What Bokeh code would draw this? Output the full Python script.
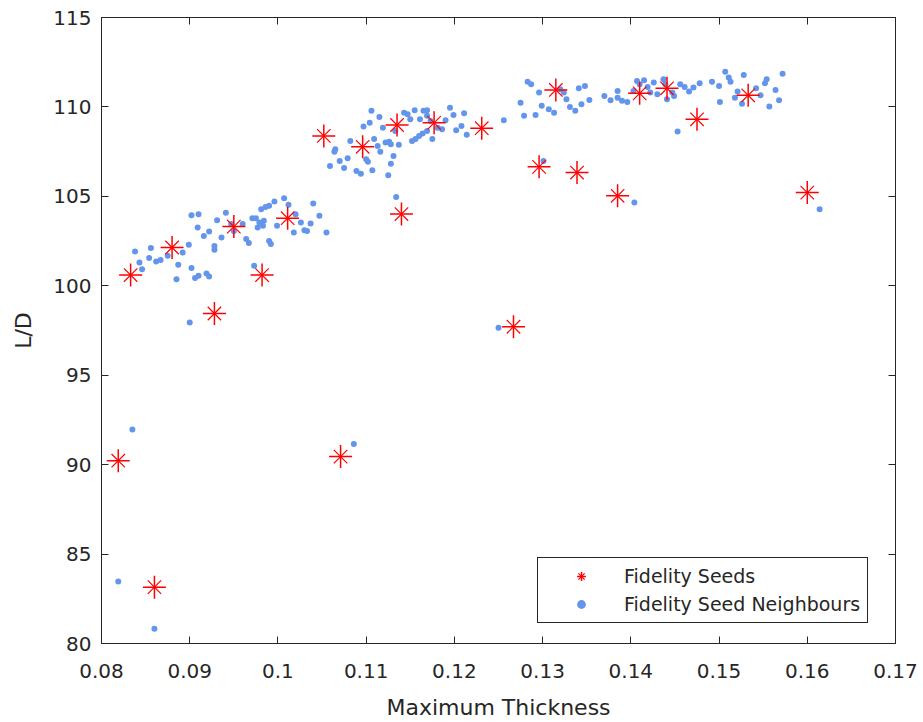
from bokeh.plotting import figure
from bokeh.models import Range1d, LinearAxis, FixedTicker, Legend, LegendItem
from bokeh.embed import file_html
from bokeh.resources import INLINE

# Fidelity seeds
seed_x = [0.0819, 0.0860, 0.0833, 0.0880, 0.0928, 0.0950, 0.0982, 0.1011,
          0.1052, 0.1096, 0.1135, 0.1177, 0.1231, 0.1140, 0.1071, 0.1267,
          0.1296, 0.1315, 0.1339, 0.1385, 0.1410, 0.1441, 0.1475, 0.1533, 0.1600]
seed_y = [90.22, 83.15, 100.60, 102.14, 98.45, 103.31, 100.60, 103.78,
          108.38, 107.77, 108.99, 109.11, 108.81, 104.01, 90.45, 97.71,
          106.65, 110.95, 106.33, 105.03, 110.76, 111.04, 109.31, 110.65, 105.21]

# Fidelity seed neighbours
nb_x = [
    0.0838, 0.0843, 0.0846, 0.0854, 0.0856, 0.0862, 0.0867, 0.0875, 0.0885, 0.0887,
    0.0892, 0.0899, 0.0902, 0.0910, 0.0902, 0.0906, 0.0910, 0.0909, 0.0916, 0.0922,
    0.0919, 0.0922, 0.0928, 0.0928, 0.0931, 0.0936, 0.0941, 0.0947, 0.0950, 0.0960,
    0.0964, 0.0967, 0.0971, 0.0975, 0.0973, 0.0977, 0.0979, 0.0981, 0.0983, 0.0984,
    0.0986, 0.0990, 0.0990, 0.0992, 0.0996, 0.0999, 0.1007, 0.1012, 0.1018, 0.1020,
    0.1026, 0.1030, 0.1033, 0.1037, 0.1040, 0.1047, 0.1055, 0.0900,
    0.1106, 0.1115, 0.1104, 0.1097, 0.1082, 0.1064, 0.1065, 0.1070, 0.1079, 0.1075,
    0.1059, 0.1089, 0.1094, 0.1107, 0.1100, 0.1102, 0.1109, 0.1113, 0.1116, 0.1119,
    0.1122, 0.1126, 0.1128, 0.1131, 0.1128, 0.1125, 0.1137, 0.1133, 0.1143, 0.1147,
    0.1150, 0.1155, 0.1161, 0.1165, 0.1169, 0.1169, 0.1173, 0.1175, 0.1152, 0.1156,
    0.1160, 0.1164, 0.1169, 0.1181, 0.1186, 0.1190, 0.1195, 0.1199, 0.1202, 0.1208,
    0.1211, 0.1214, 0.1256, 0.1275, 0.1279, 0.1134,
    0.1283, 0.1287, 0.1296, 0.1292, 0.1299, 0.1307, 0.1313, 0.1320, 0.1324, 0.1327,
    0.1331, 0.1337, 0.1341, 0.1348, 0.1344, 0.1353, 0.1370, 0.1377, 0.1385, 0.1385,
    0.1390, 0.1396, 0.1403, 0.1407, 0.1410, 0.1415, 0.1419, 0.1422, 0.1426, 0.1430,
    0.1437, 0.1439, 0.1447, 0.1449, 0.1441, 0.1456, 0.1461, 0.1466, 0.1471, 0.1478,
    0.1453, 0.1492, 0.1500, 0.1501, 0.1507, 0.1511, 0.1513, 0.1521, 0.1301, 0.1404,
    0.1518, 0.1526, 0.1528, 0.1542, 0.1547, 0.1552, 0.1554, 0.1557, 0.1564, 0.1568,
    0.1572, 0.1614,
    0.0835, 0.0819, 0.0860, 0.1086, 0.1250,
]
nb_y = [
    101.92, 101.30, 100.93, 101.55, 102.11, 101.36, 101.44, 101.68, 100.37, 101.17,
    101.86, 102.29, 103.95, 104.00, 100.99, 100.43, 100.56, 103.26, 102.79, 103.03,
    100.69, 100.52, 102.23, 102.01, 103.67, 102.70, 104.09, 103.45, 103.07, 103.45,
    102.61, 102.39, 103.78, 103.78, 101.12, 103.26, 103.54, 104.28, 103.35, 103.63,
    104.41, 104.47, 102.51, 102.33, 104.71, 103.35, 104.90, 104.53, 102.98, 104.00,
    103.54, 103.11, 103.07, 103.48, 104.60, 103.91, 102.98, 97.95,
    109.78, 109.44, 109.12, 108.90, 108.10, 107.50, 107.64, 106.98, 107.13, 106.58,
    106.70, 106.42, 106.27, 106.46, 107.08, 106.94, 108.20, 107.82, 107.50, 108.84,
    108.01, 108.06, 107.92, 107.26, 106.83, 106.18, 107.88, 108.66, 109.68, 109.59,
    109.31, 109.82, 109.31, 109.78, 109.82, 109.50, 109.22, 108.20, 108.10, 108.20,
    108.38, 108.51, 108.66, 108.84, 108.75, 109.25, 109.96, 109.55, 108.70, 108.94,
    109.65, 108.44, 109.25, 110.24, 109.50, 104.97,
    111.41, 111.27, 110.80, 109.55, 110.06, 109.87, 109.68, 110.99, 110.80, 110.43,
    110.00, 109.78, 111.04, 111.17, 110.15, 110.39, 110.61, 110.37, 110.89, 110.52,
    110.34, 110.28, 110.89, 111.45, 111.27, 111.49, 111.12, 110.80, 111.36, 110.71,
    111.55, 111.27, 110.80, 110.61, 110.43, 111.27, 111.12, 110.86, 111.08, 111.32,
    108.62, 111.41, 111.17, 110.28, 111.97, 111.64, 111.41, 110.86, 106.98, 104.65,
    110.52, 110.18, 111.79, 111.04, 110.65, 111.32, 111.55, 110.02, 110.95, 110.37,
    111.86, 104.28,
    91.96, 83.46, 80.82, 91.16, 97.65,
]

x_ticks = [0.08, 0.09, 0.10, 0.11, 0.12, 0.13, 0.14, 0.15, 0.16, 0.17]
x_tick_labels = ["0.08", "0.09", "0.1", "0.11", "0.12", "0.13", "0.14", "0.15", "0.16", "0.17"]
y_ticks = [80, 85, 90, 95, 100, 105, 110, 115]

FONT = "DejaVu Sans"
INK = "#262626"

p = figure(width=923, height=722, frame_width=794, frame_height=626,
           x_range=Range1d(0.08, 0.17), y_range=Range1d(80, 115),
           output_backend="svg", toolbar_location=None,
           min_border_left=101, min_border_right=28, min_border_top=17, min_border_bottom=79,
           x_axis_label="Maximum Thickness", y_axis_label="L/D")
p.xgrid.visible = False
p.ygrid.visible = False
p.outline_line_color = INK
p.outline_line_width = 1
p.background_fill_color = "white"
p.border_fill_color = "white"

nb = p.scatter(nb_x, nb_y, marker="circle", size=6, fill_color="#6495ED",
               line_color=None)
s1 = p.scatter(seed_x, seed_y, marker="cross", size=23, line_color="#FF0000",
               line_width=1.5)
s2 = p.scatter(seed_x, seed_y, marker="x", size=19, line_color="#FF0000",
               line_width=1.2)

def style_axis(ax):
    ax.axis_line_color = INK
    ax.major_tick_line_color = INK
    ax.major_tick_in = 7
    ax.major_tick_out = 0
    ax.minor_tick_line_color = None
    ax.major_label_text_color = INK
    ax.major_label_text_font = FONT
    ax.major_label_text_font_size = "20px"
    ax.axis_label_text_color = INK
    ax.axis_label_text_font = FONT
    ax.axis_label_text_font_size = "22px"
    ax.axis_label_text_font_style = "normal"

xa = p.xaxis[0]
xa.ticker = FixedTicker(ticks=x_ticks)
xa.major_label_overrides = {t: l for t, l in zip(x_ticks, x_tick_labels)}
style_axis(xa)
xa.major_label_standoff = 20
xa.axis_label_standoff = 14

ya = p.yaxis[0]
ya.ticker = FixedTicker(ticks=y_ticks)
style_axis(ya)
ya.major_label_standoff = 10
ya.axis_label_standoff = 14

top = LinearAxis(ticker=FixedTicker(ticks=x_ticks), major_label_standoff=0)
style_axis(top)
top.major_label_text_font_size = "0px"
top.major_label_overrides = {t: "" for t in x_ticks}
p.add_layout(top, "above")

right = LinearAxis(ticker=FixedTicker(ticks=y_ticks), major_label_standoff=0)
style_axis(right)
right.major_label_text_font_size = "0px"
right.major_label_overrides = {t: "" for t in y_ticks}
p.add_layout(right, "right")

legend = Legend(items=[LegendItem(label="Fidelity Seeds", renderers=[s1, s2]),
                       LegendItem(label="Fidelity Seed Neighbours", renderers=[nb])],
                location=(436, 20))
legend.label_text_font = FONT
legend.label_text_font_size = "19px"
legend.label_text_color = INK
legend.border_line_color = INK
legend.border_line_alpha = 1.0
legend.border_line_width = 1
legend.background_fill_color = "white"
legend.background_fill_alpha = 1
legend.padding = 7
legend.spacing = 6
legend.glyph_width = 72
legend.glyph_height = 22
legend.label_height = 22
legend.label_standoff = 7
legend.margin = 0
p.add_layout(legend, "center")

open("out.html", "w").write(file_html(p, INLINE))
